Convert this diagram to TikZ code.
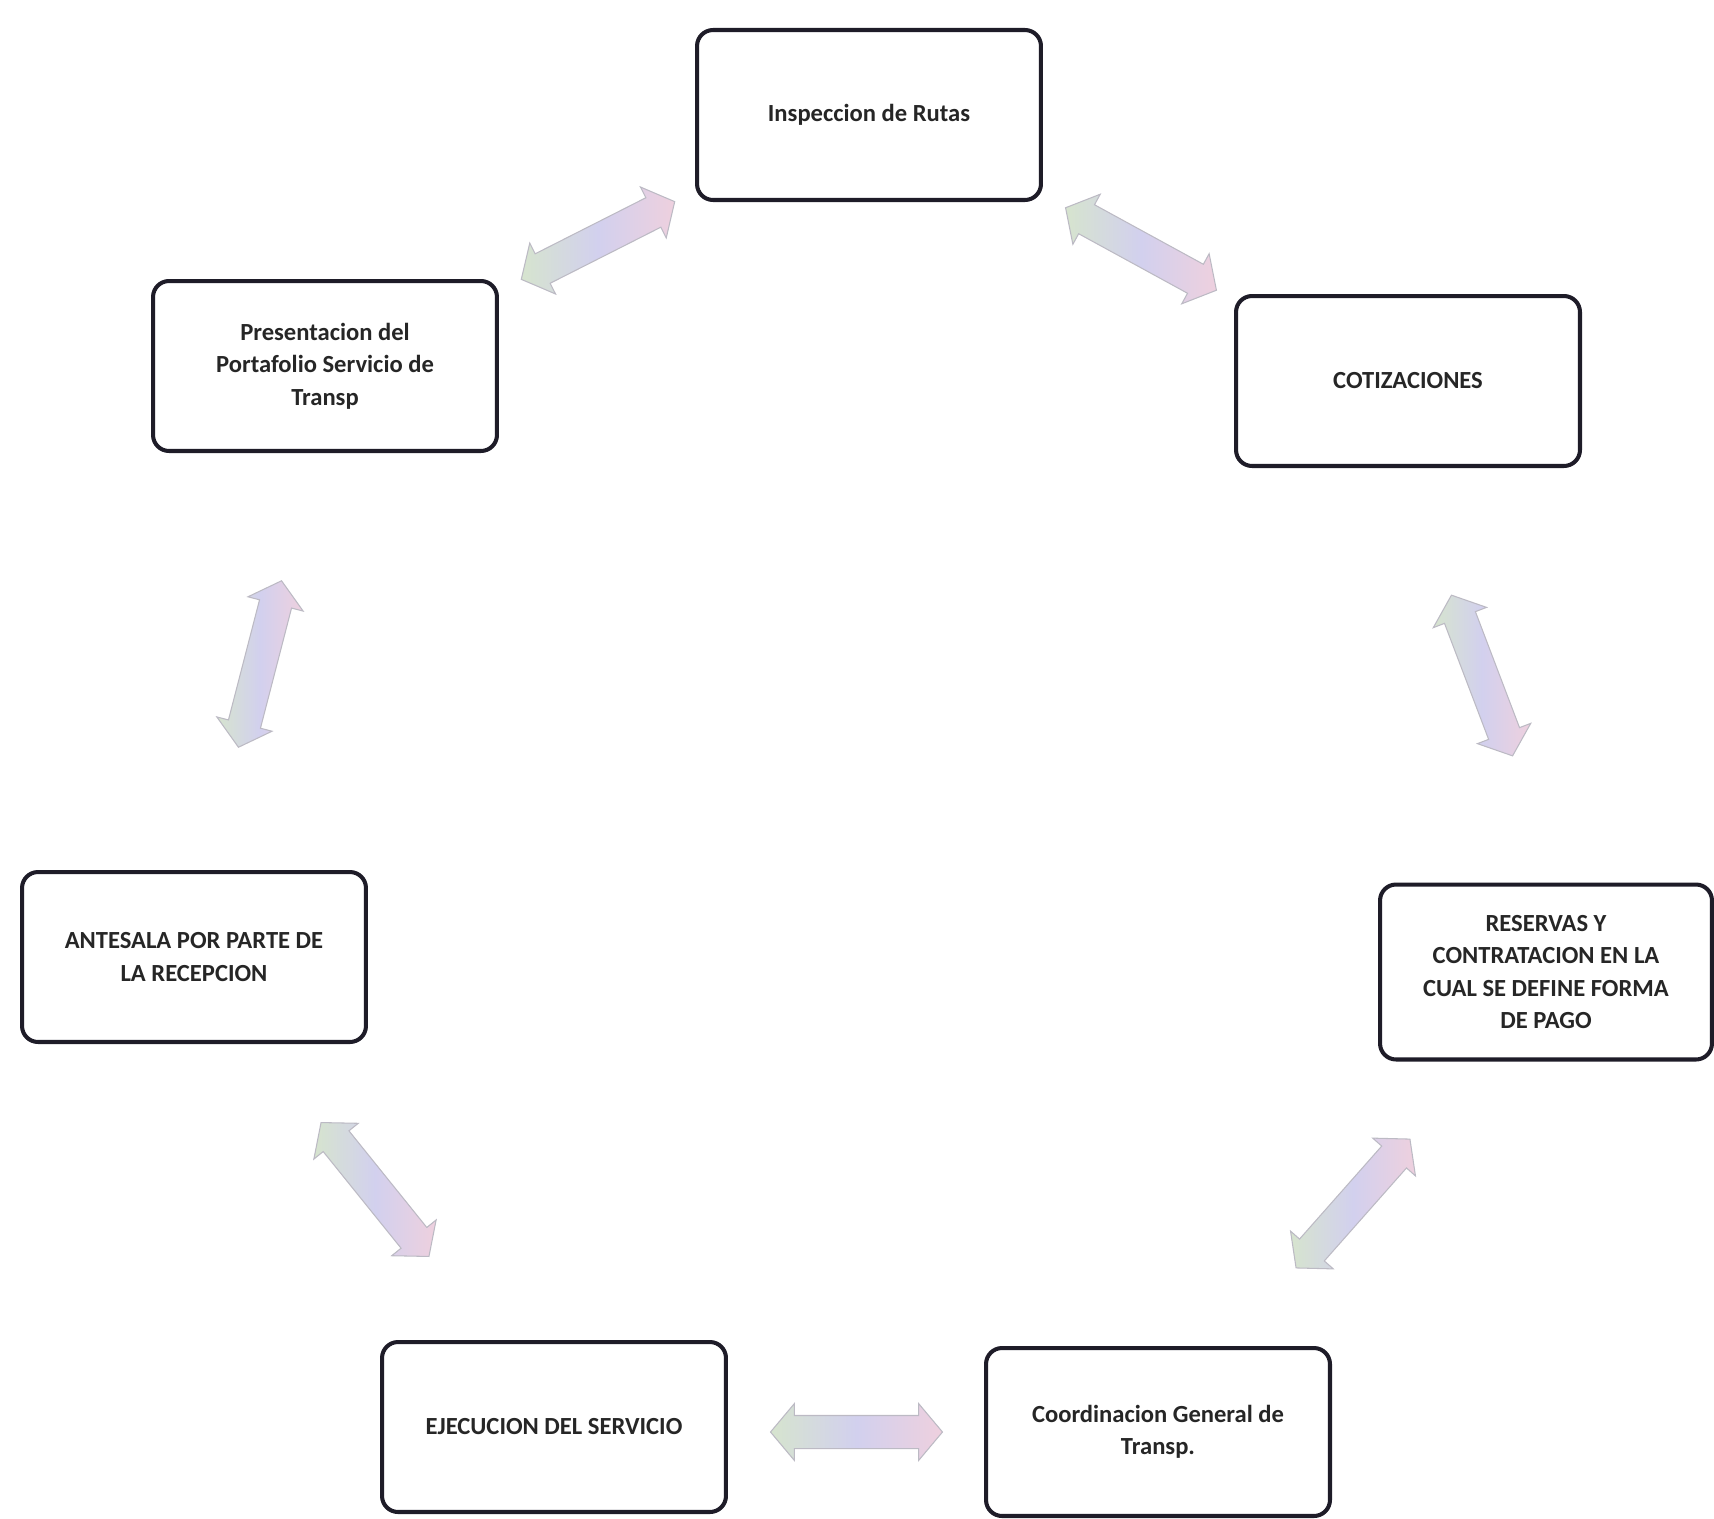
\documentclass[tikz,border=0pt]{standalone}
\usepackage{fontspec}
\setmainfont{Carlito}
\usetikzlibrary{shapes.arrows}
\definecolor{boxline}{RGB}{30,28,40}
\definecolor{pgreen}{RGB}{214,228,206}
\definecolor{plav}{RGB}{210,208,238}
\definecolor{ppink}{RGB}{238,208,222}
\definecolor{arrline}{RGB}{188,186,196}
\tikzset{
  stepbox/.style={draw=boxline, line width=2.3pt, rounded corners=0.32cm,
    fill=white, minimum width=6.88cm, minimum height=3.4cm, align=center,
    font=\fontsize{14}{18.5}\selectfont\bfseries, text=black!85, inner sep=2pt},
  dblarrow/.style={double arrow, sloped, draw=arrline, line width=0.6pt,
    minimum height=3.44cm, inner xsep=0pt, inner ysep=0.32cm,
    double arrow head extend=0.24cm, double arrow tip angle=100,
    left color=pgreen, right color=ppink, middle color=plav}
}
\begin{document}
\begin{tikzpicture}[x=0.02cm,y=-0.02cm]
\useasboundingbox (0,0) rectangle (1714,1518);

% process steps
\node[stepbox] (insp) at (869,115) {Inspeccion de Rutas};
\node[stepbox] (port) at (325,366) {Presentacion del\\Portafolio Servicio de\\Transp};
\node[stepbox] (coti) at (1408,381) {COTIZACIONES};
\node[stepbox] (ante) at (194,957) {ANTESALA POR PARTE DE\\LA RECEPCION};
\node[stepbox, minimum width=6.64cm, minimum height=3.5cm] (rese) at (1546,972)
  {RESERVAS Y\\CONTRATACION EN LA\\CUAL SE DEFINE FORMA\\DE PAGO};
\node[stepbox] (ejec) at (554,1427) {EJECUCION DEL SERVICIO};
\node[stepbox, minimum height=3.36cm] (coor) at (1158,1432) {\raisebox{-0.5cm}{\parbox{6cm}{\centering Coordinacion General de\\Transp.}}};

% arrow end points between neighbouring steps
\coordinate (a1s) at (522,279);  \coordinate (a1e) at (674,202);
\coordinate (a2s) at (1066,208); \coordinate (a2e) at (1216,290);
\coordinate (a3s) at (282,579);  \coordinate (a3e) at (238,749);
\coordinate (a4s) at (1451,594); \coordinate (a4e) at (1513,757);
\coordinate (a5s) at (319,1120); \coordinate (a5e) at (431,1259);
\coordinate (a6s) at (1410,1139);\coordinate (a6e) at (1296,1268);
\coordinate (a7s) at (771,1432); \coordinate (a7e) at (942,1432);

% two-way arrows
\path (a1s) -- node[dblarrow] (arr1) {} (a1e);
\path (a2s) -- node[dblarrow] (arr2) {} (a2e);
\path (a3s) -- node[dblarrow] (arr3) {} (a3e);
\path (a4s) -- node[dblarrow] (arr4) {} (a4e);
\path (a5s) -- node[dblarrow] (arr5) {} (a5e);
\path (a6s) -- node[dblarrow] (arr6) {} (a6e);
\path (a7s) -- node[dblarrow] (arr7) {} (a7e);
\end{tikzpicture}
\end{document}
